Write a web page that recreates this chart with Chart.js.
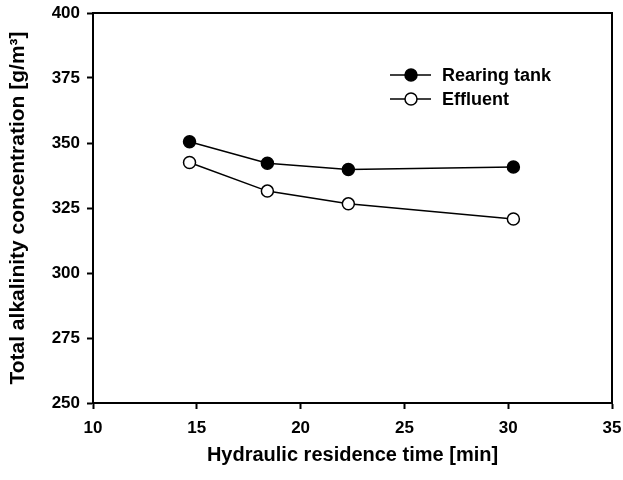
<!DOCTYPE html>
<html lang="en">
<head>
    <meta charset="UTF-8">
    <title>Total alkalinity</title>
    <script src="https://cdn.jsdelivr.net/npm/chart.js"></script>
    <style>
        body {
            margin: 0;
            padding: 0;
            background-color: #ffffff;
        }

        .chart-wrapper {
            width: 623px;
            height: 480px;
        }
    </style>
</head>
<body>
    <div class="chart-wrapper">
        <canvas id="alkalinityChart" width="623" height="480"></canvas>
    </div>

    <script>
        // values
        const retentionTime = [14.65, 18.4, 22.3, 30.25];
        const rearingTank = [350.5, 342.2, 339.8, 340.8];
        const effluent = [342.5, 331.5, 326.6, 320.8];
        const xTicks = [10, 15, 20, 25, 30, 35];
        const yTicks = [250, 275, 300, 325, 350, 375, 400];

        const fontFamily = 'Arial, "Liberation Sans", sans-serif';

        // box round the plot area
        const frame = {
            id: 'frame',
            afterDraw(chart) {
                const { ctx, chartArea: a } = chart;
                ctx.save();
                ctx.strokeStyle = '#000';
                ctx.lineWidth = 2;
                ctx.strokeRect(a.left, a.top, a.right - a.left, a.bottom - a.top);
                ctx.restore();
            }
        };

        // legend sitting inside the plot
        const innerLegend = {
            id: 'innerLegend',
            afterDraw(chart) {
                const ctx = chart.ctx;
                ctx.save();
                ctx.font = 'bold 18px ' + fontFamily;
                ctx.textBaseline = 'middle';
                chart.data.datasets.forEach((ds, i) => {
                    const y = 75 + i * 24;
                    ctx.strokeStyle = ds.borderColor;
                    ctx.lineWidth = 1.5;
                    ctx.beginPath();
                    ctx.moveTo(390, y);
                    ctx.lineTo(431, y);
                    ctx.stroke();
                    ctx.beginPath();
                    ctx.arc(411, y, ds.pointRadius, 0, Math.PI * 2);
                    ctx.fillStyle = ds.pointBackgroundColor;
                    ctx.fill();
                    ctx.lineWidth = ds.pointBorderWidth;
                    ctx.stroke();
                    ctx.fillStyle = '#000';
                    ctx.fillText(ds.label, 442, y + 1);
                });
                ctx.restore();
            }
        };

        const ctx = document.getElementById('alkalinityChart').getContext('2d');
        new Chart(ctx, {
            type: 'line',
            data: {
                datasets: [
                    {
                        label: 'Rearing tank',
                        data: retentionTime.map((x, i) => ({ x: x, y: rearingTank[i] })),
                        borderColor: '#000',
                        borderWidth: 1.5,
                        pointRadius: 6,
                        pointBorderWidth: 1.5,
                        pointBackgroundColor: '#000',
                        pointBorderColor: '#000'
                    },
                    {
                        label: 'Effluent',
                        data: retentionTime.map((x, i) => ({ x: x, y: effluent[i] })),
                        borderColor: '#000',
                        borderWidth: 1.5,
                        pointRadius: 6,
                        pointBorderWidth: 1.5,
                        pointBackgroundColor: '#fff',
                        pointBorderColor: '#000'
                    }
                ]
            },
            options: {
                responsive: false,
                animation: false,
                layout: {
                    padding: { top: 13, right: 11, bottom: 0, left: 0 }
                },
                plugins: {
                    legend: { display: false },
                    tooltip: { enabled: false }
                },
                scales: {
                    x: {
                        type: 'linear',
                        min: 10,
                        max: 35,
                        afterBuildTicks: scale => {
                            scale.ticks = xTicks.map(v => ({ value: v }));
                        },
                        afterFit: scale => {
                            scale.height = 77;
                            scale.paddingLeft = 0;
                            scale.paddingRight = 0;
                        },
                        grid: {
                            drawOnChartArea: false,
                            drawTicks: true,
                            tickLength: 6,
                            tickColor: '#000',
                            tickWidth: 2
                        },
                        border: { display: true, color: '#000', width: 2 },
                        ticks: {
                            color: '#000',
                            padding: 9,
                            font: { family: fontFamily, size: 17, weight: 'bold' }
                        },
                        title: {
                            display: true,
                            text: 'Hydraulic residence time [min]',
                            color: '#000',
                            padding: { top: 0, bottom: 13 },
                            font: { family: fontFamily, size: 20, weight: 'bold' }
                        }
                    },
                    y: {
                        type: 'linear',
                        min: 250,
                        max: 400,
                        afterBuildTicks: scale => {
                            scale.ticks = yTicks.map(v => ({ value: v }));
                        },
                        afterFit: scale => {
                            scale.width = 93;
                            scale.paddingTop = 0;
                            scale.paddingBottom = 0;
                        },
                        grid: {
                            drawOnChartArea: false,
                            drawTicks: true,
                            tickLength: 6,
                            tickColor: '#000',
                            tickWidth: 2
                        },
                        border: { display: true, color: '#000', width: 2 },
                        ticks: {
                            color: '#000',
                            padding: 7,
                            font: { family: fontFamily, size: 17, weight: 'bold' }
                        },
                        title: {
                            display: true,
                            text: 'Total alkalinity concentration [g/m³]',
                            color: '#000',
                            padding: { top: 6, bottom: 0 },
                            font: { family: fontFamily, size: 21, weight: 'bold' }
                        }
                    }
                }
            },
            plugins: [frame, innerLegend]
        });
    </script>
</body>
</html>
